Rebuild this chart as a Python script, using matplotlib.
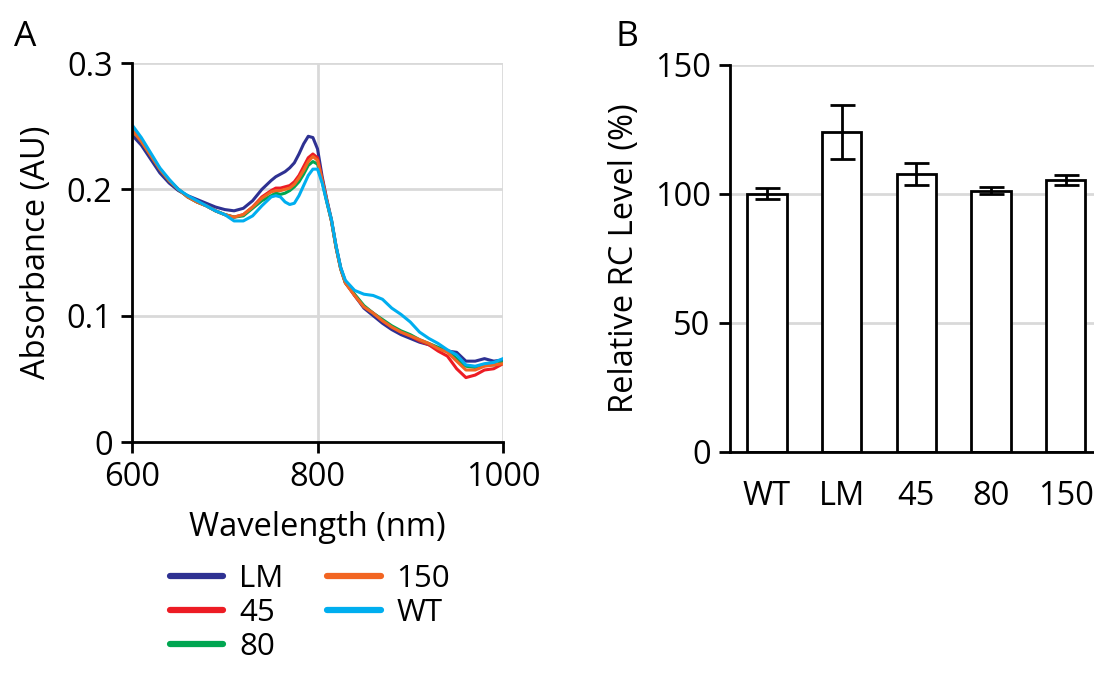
import matplotlib
matplotlib.use('Agg')
import matplotlib.pyplot as plt

plt.rcParams['font.family'] = ['Open Sans', 'DejaVu Sans']

# panel A: absorption spectra
wavelength = [600, 610, 620, 630, 640, 650, 660, 670, 680, 690, 700, 710, 720, 730, 740,
              750, 755, 760, 765, 770, 775, 780, 785, 790, 795, 800, 805, 810, 815, 820,
              825, 830, 840, 850, 860, 870, 880, 890, 900, 910, 920, 930, 940, 950, 960,
              970, 980, 990, 1000]

abs_lm = [.243, .235, .224, .213, .205, .199, .195, .192, .189, .186, .184, .183, .185, .191, .200,
          .207, .210, .212, .214, .217, .221, .228, .236, .242, .241, .232, .210, .192, .176, .155,
          .138, .127, .116, .106, .100, .094, .089, .085, .082, .079, .077, .074, .072, .071, .064,
          .064, .066, .064, .065]
abs_45 = [.247, .238, .227, .216, .207, .200, .194, .190, .187, .183, .180, .178, .180, .186, .194,
          .199, .201, .201, .202, .203, .206, .211, .218, .225, .228, .225, .208, .191, .175, .154,
          .137, .126, .116, .107, .102, .096, .091, .087, .084, .080, .077, .072, .068, .058, .051,
          .053, .057, .058, .062]
abs_80 = [.247, .238, .227, .216, .207, .200, .194, .190, .187, .183, .180, .178, .179, .185, .191,
          .195, .197, .196, .197, .199, .202, .206, .212, .219, .222, .220, .206, .190, .175, .154,
          .137, .126, .117, .108, .102, .097, .092, .088, .085, .081, .078, .075, .072, .066, .060,
          .059, .061, .061, .063]
abs_150 = [.247, .238, .227, .216, .207, .200, .194, .190, .187, .183, .180, .178, .180, .186, .193,
           .198, .199, .199, .200, .201, .204, .209, .215, .222, .226, .223, .207, .191, .175, .154,
           .137, .126, .116, .107, .102, .096, .091, .087, .084, .081, .078, .074, .071, .064, .057,
           .057, .060, .061, .062]
abs_wt = [.251, .241, .229, .217, .208, .200, .195, .191, .187, .183, .180, .175, .175, .179, .187,
          .194, .195, .194, .190, .188, .189, .195, .203, .211, .216, .216, .205, .190, .176, .155,
          .138, .128, .120, .117, .116, .113, .106, .101, .095, .087, .082, .078, .073, .069, .061,
          .060, .062, .063, .066]

series = [('LM', abs_lm, '#2e3192'), ('45', abs_45, '#ed1c24'), ('80', abs_80, '#00a651'),
          ('150', abs_150, '#f26522'), ('WT', abs_wt, '#00aeef')]

# panel B: relative RC level
strains = ['WT', 'LM', '45', '80', '150']
rc_level = [100, 123.8, 107.8, 101.2, 105.3]
rc_err = [2.1, 10.5, 4.2, 1.3, 2.0]

fs = 23.5
grid_c = '#d9d9d9'

fig = plt.figure(figsize=(10.94, 6.74), dpi=100)

ax1 = fig.add_axes([0.1207, 0.3442, 0.3391, 0.5623])
for name, vals, col in series:
    ax1.plot(wavelength, vals, color=col, lw=2.2, label=name)
ax1.set_xlim(600, 1000)
ax1.set_ylim(0, 0.3)
ax1.set_xticks([600, 800, 1000])
ax1.set_yticks([0, 0.1, 0.2, 0.3])
ax1.set_yticklabels(['0', '0.1', '0.2', '0.3'])
ax1.grid(True, color=grid_c, lw=2)
ax1.set_axisbelow(True)
for s in ['top', 'right']:
    ax1.spines[s].set_visible(False)
for s in ['left', 'bottom']:
    ax1.spines[s].set_linewidth(2)
ax1.tick_params(labelsize=fs, width=2, length=8, pad=6)
ax1.set_xlabel('Wavelength (nm)', fontsize=fs, labelpad=12)
ax1.set_ylabel('Absorbance (AU)', fontsize=fs, labelpad=10)

fig.legend(*ax1.get_legend_handles_labels(), loc='upper left', bbox_to_anchor=(0.155, 0.163),
           ncol=2, frameon=False, fontsize=fs - 1, handlelength=1.72, handletextpad=0.5,
           columnspacing=1.4, labelspacing=0.12, borderaxespad=0, borderpad=0)
for line in fig.legends[0].get_lines():
    line.set_linewidth(4.5)
    line.set_solid_capstyle('round')

ax2 = fig.add_axes([0.6673, 0.3294, 0.3327, 0.5746])
xpos = range(len(strains))
ax2.bar(xpos, rc_level, width=0.53, color='white', edgecolor='black', linewidth=2,
        yerr=rc_err, capsize=9, error_kw=dict(elinewidth=2, capthick=2, ecolor='black'))
ax2.set_xlim(-0.495, 4.38)
ax2.set_ylim(0, 150)
ax2.set_yticks([0, 50, 100, 150])
ax2.set_xticks(list(xpos))
ax2.set_xticklabels(strains)
ax2.yaxis.grid(True, color=grid_c, lw=2)
ax2.set_axisbelow(True)
for s in ['top', 'right']:
    ax2.spines[s].set_visible(False)
for s in ['left', 'bottom']:
    ax2.spines[s].set_linewidth(2)
ax2.tick_params(axis='y', labelsize=fs, width=2, length=8, pad=6)
ax2.tick_params(axis='x', labelsize=fs, length=0, pad=20)
ax2.set_ylabel('Relative RC Level (%)', fontsize=fs, labelpad=10)

fig.text(0.013, 0.932, 'A', fontsize=fs + 2)
fig.text(0.563, 0.932, 'B', fontsize=fs + 2)

fig.savefig('out.png', dpi=100)
